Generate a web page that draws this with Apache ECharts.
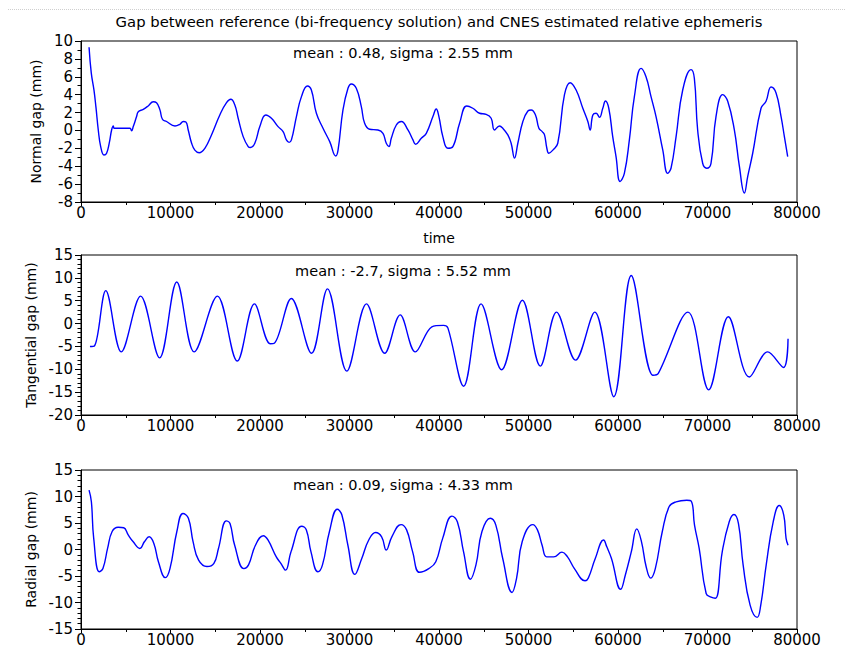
<!DOCTYPE html>
<html>
<head>
<meta charset="utf-8">
<script src="https://cdn.jsdelivr.net/npm/echarts@6/dist/echarts.min.js"></script>
<style>
  html, body { margin: 0; padding: 0; background: #fff; }
  #chart { width: 845px; height: 648px; }
</style>
</head>
<body>
<div id="chart"></div>
<script>
// Time axis ticks (shared by the three panels)
const timeTicks = [0, 10000, 20000, 30000, 40000, 50000, 60000, 70000, 80000];

// Normal gap (mm) against time
const normalGap = [
  [900, 9.3], [1150, 6.4], [1450, 4.5], [1670, 2.6], [1930, 0.05], [2200, -1.8], [2570, -2.75],
  [2860, -2.55], [3160, -1.4], [3420, 0.05], [3610, 0.5], [3700, 0.24], [5470, 0.24], [5650, -0.05],
  [5840, 0.43], [6210, 1.55], [6400, 2.1], [6960, 2.36], [7510, 2.74], [8070, 3.2], [8440, 3.1],
  [8820, 2.3], [9100, 1.25], [9560, 1.0], [10500, 0.5], [11050, 0.69], [11420, 1.0], [11720, 0.95],
  [11980, 0.05], [12350, -1.4], [12720, -2.2], [13200, -2.5], [13840, -2.0], [14580, -0.5],
  [15510, 1.73], [16260, 3.1], [16740, 3.48], [17190, 2.85], [17560, 1.36], [18120, -0.69],
  [18680, -1.8], [18930, -1.9], [19420, -1.43], [19980, 0.43], [20650, 1.73], [21280, 1.36],
  [22020, 0.43], [22580, -0.13], [22950, -1.06], [23250, -1.33], [23510, -1.06], [24070, 1.55],
  [24630, 3.78], [25300, 4.97], [25740, 4.52], [26300, 1.92], [27040, 0.24], [27790, -1.25],
  [28460, -2.85], [28720, -2.2], [29270, 2.29], [29830, 4.71], [30200, 5.2], [30760, 4.71],
  [31320, 2.66], [31690, 0.8], [32250, 0.13], [33180, 0.05], [33740, -0.32], [34110, -1.43],
  [34410, -1.8], [34670, -0.88], [35230, 0.61], [35790, 1.0], [36530, 0.05], [37090, -1.06],
  [37390, -1.55], [38020, -0.88], [38580, -0.32], [39320, 1.55], [39690, 2.4], [39990, 1.55],
  [40430, -0.69], [40990, -1.99], [41550, -1.8], [42300, 0.8], [43100, 2.74], [43780, 2.48],
  [44530, 1.92], [45270, 1.8], [45830, 1.36], [46200, 0.05], [46760, 0.5], [47130, 0.24],
  [47690, -0.5], [48060, -1.43], [48440, -3.1], [48810, -1.43], [49370, 1.0], [49930, 2.17],
  [50300, 2.29], [50780, 1.73], [51160, 0.24], [51530, -0.13], [51790, -0.5], [52050, -1.99],
  [52270, -2.55], [52720, -2.2], [53270, -1.43], [54020, 4.0], [54650, 5.34], [55320, 4.52],
  [56070, 2.48], [56630, 1.0], [56890, 0.05], [57190, 1.73], [57560, 1.92], [57930, 1.47],
  [58300, 2.48], [58600, 3.3], [58970, 2.48], [59410, -0.69], [59780, -2.92], [60230, -5.71],
  [60710, -4.8], [61270, -1.06], [61830, 3.78], [62580, 6.94], [63130, 6.0], [63690, 3.78],
  [64250, 1.55], [65000, -2.18], [65550, -4.8], [65930, -4.2], [66490, -0.69], [67230, 4.52],
  [68160, 6.8], [68530, 5.83], [68900, 0.05], [69460, -3.67], [69910, -4.22], [70390, -3.67],
  [70950, 1.55], [71700, 4.0], [72260, 3.26], [73000, 0.05], [73560, -4.0], [74120, -7.0],
  [74490, -5.16], [75050, -2.55], [75980, 2.48], [76540, 3.26], [77100, 4.86], [77660, 4.19],
  [78220, 1.55], [78590, -0.69], [78960, -2.92]
];

// Tangential gap (mm) against time
const tangentialGap = [
  [1000, -5.0], [1500, -4.9], [2770, 7.2], [4500, -6.2], [6660, 6.0], [8780, -7.5], [10700, 9.1],
  [12650, -6.2], [15240, 6.0], [17460, -8.2], [19380, 4.3], [21130, -4.4], [21600, -4.3],
  [23500, 5.5], [25760, -6.5], [27540, 7.6], [29700, -10.4], [31900, 4.3], [33930, -6.5],
  [35660, 1.9], [37360, -6.2], [39200, -0.7], [40500, -0.4], [41000, -1.0], [42750, -13.7],
  [44700, 4.3], [47000, -10.1], [49320, 5.1], [51320, -9.3], [53130, 2.5], [55250, -8.0],
  [57400, 2.5], [59530, -16.0], [61480, 10.5], [63900, -11.3], [64500, -10.9], [67820, 2.5],
  [70130, -14.5], [72330, 1.5], [74680, -11.7], [76720, -6.2], [78500, -9.6], [79000, -3.3]
];

// Radial gap (mm) against time
const radialGap = [
  [900, 11.2], [1160, 9.0], [1420, 2.1], [2040, -4.2], [2450, -3.6], [2970, 0.2], [3480, 3.4],
  [4150, 4.2], [4770, 4.1], [5290, 2.7], [5810, 1.5], [6580, 0.2], [7100, 1.5], [7610, 2.4],
  [8130, 1.2], [8650, -2.3], [9420, -5.3], [9940, -3.6], [10710, 3.4], [11390, 6.8], [12000, 5.9],
  [12520, 1.5], [13140, -2.0], [14070, -3.2], [14850, -2.6], [15360, 0.2], [16240, 5.4],
  [16650, 4.9], [17170, 0.8], [18200, -3.6], [18720, -2.9], [19490, 0.8], [20370, 2.6],
  [20890, 1.8], [21820, -1.4], [22330, -2.6], [22850, -3.9], [23470, -0.4], [24660, 4.4],
  [25180, 3.7], [25690, -0.4], [26470, -4.2], [26980, -2.9], [27760, 3.4], [28640, 7.6],
  [29150, 6.5], [29820, 0.8], [30600, -4.7], [31370, -1.7], [32150, 1.8], [32920, 3.2],
  [33590, 2.4], [34110, -0.1], [34730, 2.4], [35760, 4.7], [36380, 3.7], [37050, -0.4],
  [37830, -4.3], [38860, -3.6], [39640, -2.3], [40410, 2.1], [41450, 6.3], [42060, 5.2],
  [42740, -0.4], [43510, -5.6], [44130, -2.9], [44800, 3.4], [45730, 5.9], [46350, 4.6],
  [47120, -1.7], [48160, -8.1], [48670, -5.4], [49300, 1.5], [50480, 4.7], [51000, 3.7],
  [51520, 0.8], [52030, -1.4], [52810, -1.4], [53740, -0.5], [54360, -1.4], [55130, -3.6],
  [56320, -5.9], [56680, -5.4], [57460, -1.7], [58390, 1.8], [58750, 0.5], [59270, -1.7],
  [60300, -7.5], [60820, -4.8], [61490, -0.4], [62100, 3.9], [62620, 1.5], [63140, -3.2],
  [63650, -5.4], [64170, -3.6], [64950, 3.4], [65720, 8.1], [66490, 9.0], [67680, 9.3],
  [68190, 9.1], [68550, 4.6], [69070, 0.2], [69850, -8.3], [70400, -9.0], [70880, -9.2],
  [71650, -0.4], [72420, 5.2], [72950, 6.6], [73460, 4.9], [73980, -2.9], [74760, -10.5],
  [75550, -12.8], [75950, -10.5], [76560, -2.9], [77340, 5.2], [78010, 8.3], [78520, 6.5],
  [78780, 2.1], [79000, 0.8]
];

// Per-panel y-axis ranges and labels
const panelNames = ['Normal gap (mm)', 'Tangential gap (mm)', 'Radial gap (mm)'];
const panelRanges = [[-8, 10, 2], [-20, 15, 5], [-15, 15, 5]];
const panelMinorSplits = [2, 5, 5];
const panelStats = ['mean : 0.48, sigma : 2.55 mm', 'mean : -2.7, sigma : 5.52 mm', 'mean : 0.09, sigma : 4.33 mm'];
const chartTitle = 'Gap between reference (bi-frequency solution) and CNES estimated relative ephemeris';

const FONT = 'DejaVu Sans';
const grids = [
  { left: 81, top: 41, width: 716, height: 161 },
  { left: 81, top: 255, width: 716, height: 160 },
  { left: 81, top: 470, width: 716, height: 159 }
];
const nameGaps = [28, 35, 35];
const smoothing = [0.45, 0.35, 0.45];

const chart = echarts.init(document.getElementById('chart'), null, { renderer: 'svg' });

const option = {
  animation: false,
  backgroundColor: '#ffffff',
  grid: grids.map(g => Object.assign({
    show: true, borderColor: '#000', borderWidth: 1, backgroundColor: 'transparent'
  }, g)),
  xAxis: grids.map((g, i) => ({
    type: 'value',
    gridIndex: i,
    min: timeTicks[0],
    max: timeTicks[timeTicks.length - 1],
    interval: timeTicks[1] - timeTicks[0],
    name: i === 0 ? 'time' : '',
    nameLocation: 'middle',
    nameGap: 29,
    nameTextStyle: { color: '#000', fontFamily: FONT, fontSize: 14 },
    axisLine: { show: true, onZero: false, lineStyle: { color: '#000', width: 1 } },
    axisTick: { show: true, inside: false, length: 4, lineStyle: { color: '#000' } },
    minorTick: { show: true, splitNumber: 2, length: 3, lineStyle: { color: '#000' } },
    splitLine: { show: false },
    axisLabel: { color: '#000', fontFamily: FONT, fontSize: 15, margin: 3,
      formatter: v => String(v) }
  })),
  yAxis: grids.map((g, i) => ({
    type: 'value',
    gridIndex: i,
    min: panelRanges[i][0],
    max: panelRanges[i][1],
    interval: panelRanges[i][2],
    name: panelNames[i],
    nameLocation: 'middle',
    nameRotate: 90,
    nameGap: nameGaps[i],
    nameTextStyle: { color: '#000', fontFamily: FONT, fontSize: 14 },
    axisLine: { show: true, onZero: false, lineStyle: { color: '#000', width: 1 } },
    axisTick: { show: true, inside: false, length: 6, lineStyle: { color: '#000' } },
    minorTick: { show: true, splitNumber: panelMinorSplits[i], length: 3.5, lineStyle: { color: '#000' } },
    splitLine: { show: false },
    axisLabel: { color: '#000', fontFamily: FONT, fontSize: 15, margin: 8,
      formatter: v => String(v) }
  })),
  series: [normalGap, tangentialGap, radialGap].map((d, i) => ({
    type: 'line',
    xAxisIndex: i,
    yAxisIndex: i,
    data: d,
    showSymbol: false,
    smooth: smoothing[i],
    lineStyle: { color: '#0000ff', width: 1.4 },
    silent: true
  })),
  graphic: [
    { type: 'line', shape: { x1: 8, y1: 9.5, x2: 845, y2: 9.5 },
      style: { stroke: '#cfcfcf', lineWidth: 1, lineDash: [1, 1] } },
    { type: 'text', x: 439, y: 21,
      style: { text: chartTitle, fill: '#000', font: '14.8px "DejaVu Sans"', align: 'center', verticalAlign: 'middle' } }
  ].concat(panelStats.map((s, i) => ({
    type: 'text', x: 403, y: [53, 271, 485][i],
    style: { text: s, fill: '#000', font: '14.5px "DejaVu Sans"', align: 'center', verticalAlign: 'middle' }
  })))
};

chart.setOption(option);
</script>
</body>
</html>
